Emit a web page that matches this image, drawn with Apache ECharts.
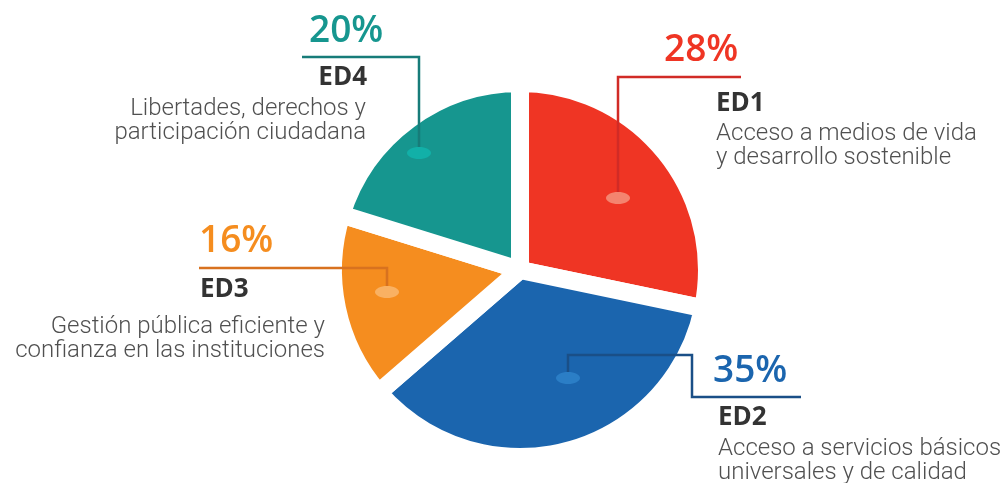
<!DOCTYPE html>
<html>
<head>
<meta charset="utf-8">
<script src="https://cdn.jsdelivr.net/npm/echarts@6/dist/echarts.min.js"></script>
<style>
  html, body { margin: 0; padding: 0; background: #fff; }
  #chart { width: 1002px; height: 483px; }
</style>
</head>
<body>
<div id="chart"></div>
<script>
// datos
var codes = ['ED1', 'ED2', 'ED3', 'ED4'];
var shares = [28, 35, 16, 20];
var descLines = [
  ['Acceso a medios de vida', 'y desarrollo sostenible'],
  ['Acceso a servicios básicos', 'universales y de calidad'],
  ['Gestión pública eficiente y', 'confianza en las instituciones'],
  ['Libertades, derechos y', 'participación ciudadana']
];
var sliceColors = ['#ef3524', '#1b65ae', '#f58d1f', '#16968f'];
var dotColors = ['#f4846f', '#2b7ec6', '#f9b163', '#12b0a8'];
var lineColors = ['#d12b26', '#1a4f87', '#d8721f', '#177c79'];

// posiciones de las etiquetas (solo diseño)
var notes = [
  { dot: [618, 198], path: [[618, 198], [618, 77], [741, 77]], align: 'left',
    pct: [664, 50], code: [716, 104], desc: [716, 134] },
  { dot: [568, 378], path: [[568, 378], [568, 355], [692, 355], [692, 397], [801, 397]], align: 'left',
    pct: [713, 371], code: [718, 418], desc: [718, 449] },
  { dot: [387, 292], path: [[387, 292], [387, 268], [199, 268]], align: 'right',
    pct: [199, 241], code: [200, 290], desc: [325, 327], pctAlign: 'left', codeAlign: 'left' },
  { dot: [419, 153], path: [[419, 153], [419, 57], [302, 57]], align: 'right',
    pct: [309, 31], code: [367, 78], desc: [366, 109], pctAlign: 'left' }
];

var graphics = [];
notes.forEach(function (n, i) {
  graphics.push({
    type: 'polyline', silent: true, z: 10,
    shape: { points: n.path },
    style: { stroke: lineColors[i], lineWidth: 2.5, fill: null }
  });
  graphics.push({
    type: 'ellipse', silent: true, z: 11,
    shape: { cx: n.dot[0], cy: n.dot[1], rx: 12, ry: 6 },
    style: { fill: dotColors[i] }
  });
  graphics.push({
    type: 'text', silent: true, z: 12,
    style: {
      text: shares[i] + '%', x: n.pct[0], y: n.pct[1],
      font: '600 37px "Open Sans"', fill: sliceColors[i],
      textAlign: n.pctAlign || n.align, textVerticalAlign: 'middle'
    }
  });
  graphics.push({
    type: 'text', silent: true, z: 12,
    style: {
      text: codes[i], x: n.code[0], y: n.code[1],
      font: 'bold 26px "Open Sans"', fill: '#333333',
      textAlign: n.codeAlign || n.align, textVerticalAlign: 'middle'
    }
  });
  descLines[i].forEach(function (line, k) {
    graphics.push({
      type: 'text', silent: true, z: 12,
      style: {
        text: line, x: n.desc[0], y: n.desc[1] + k * 23.5,
        font: '300 24px Roboto', fill: '#505050',
        textAlign: n.align, textVerticalAlign: 'middle'
      }
    });
  });
});

var chart = echarts.init(document.getElementById('chart'));
chart.setOption({
  animation: false,
  series: [{
    type: 'pie',
    center: [520, 270],
    radius: 187,
    startAngle: 90,
    clockwise: true,
    silent: true,
    label: { show: false },
    labelLine: { show: false },
    itemStyle: { borderColor: '#ffffff', borderWidth: 18, borderJoin: 'round' },
    data: codes.map(function (c, i) {
      return { name: c, value: shares[i], itemStyle: { color: sliceColors[i] } };
    })
  }],
  graphic: graphics
});
</script>
</body>
</html>
